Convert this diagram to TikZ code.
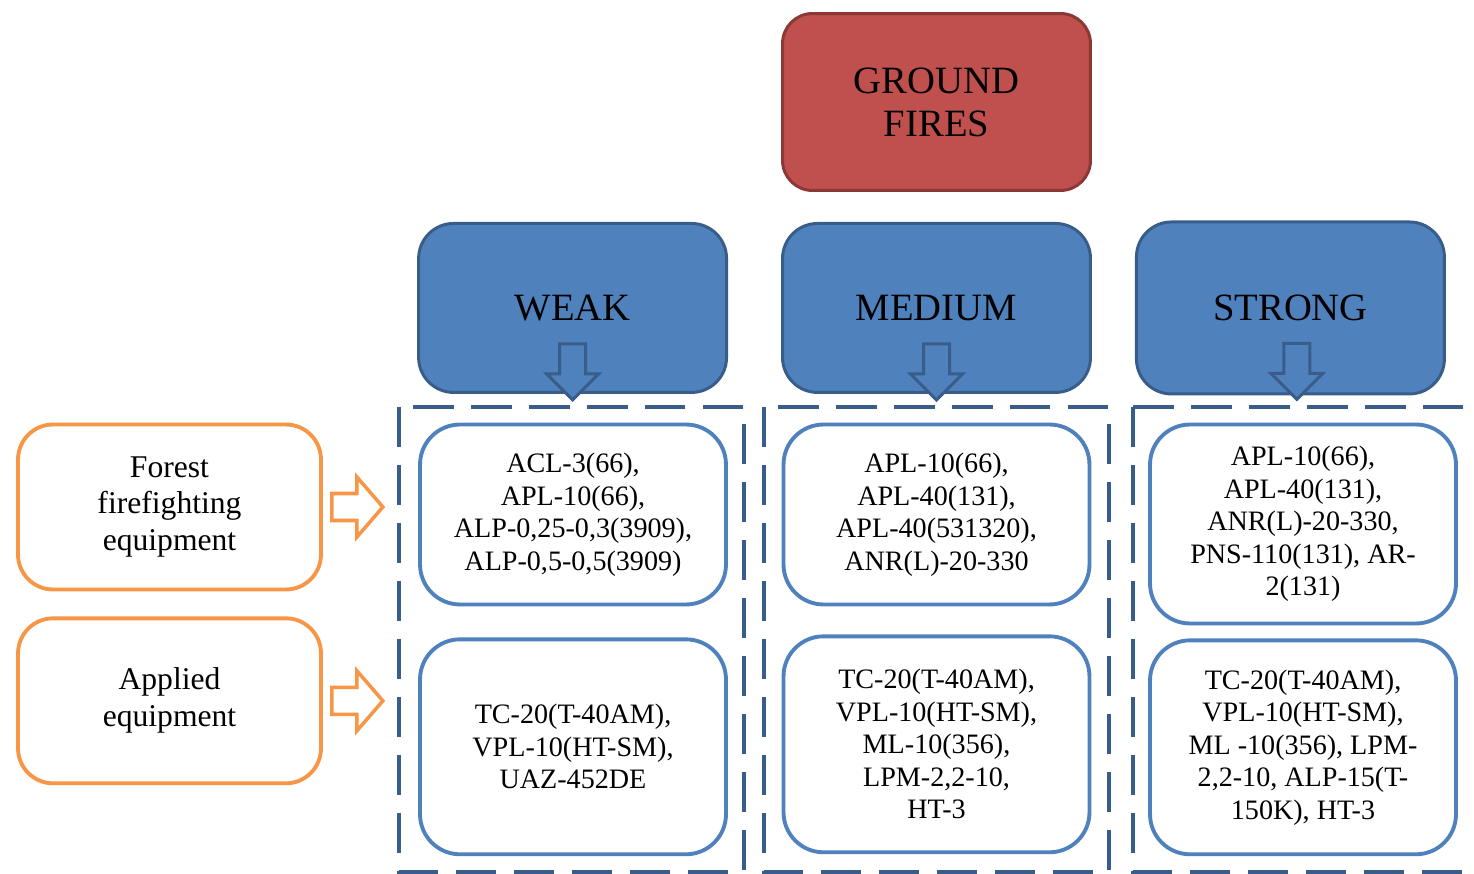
\documentclass[tikz,border=0pt]{standalone}
\usepackage{fontspec}
\setmainfont{Liberation Serif}
\usetikzlibrary{positioning}
\definecolor{firered}{HTML}{C0504D}
\definecolor{fireedge}{HTML}{8C3836}
\definecolor{levelblue}{HTML}{4F81BD}
\definecolor{leveledge}{HTML}{385D8A}
\definecolor{kitedge}{HTML}{4F81BD}
\definecolor{kindedge}{HTML}{F79646}
\definecolor{groupedge}{HTML}{385D8A}
\begin{document}
\begin{tikzpicture}[
  x=0.02cm, y=-0.02cm,
  every node/.style = {shape=rectangle, align=center, inner sep=0pt},
  fire/.style = {draw=fireedge, fill=firered, line width=1.7pt, rounded corners=0.6cm,
    minimum width=6.16cm, minimum height=3.54cm, font=\fontsize{22}{24.5}\selectfont},
  level/.style = {draw=leveledge, fill=levelblue, line width=1.7pt, rounded corners=0.7cm,
    minimum width=6.16cm, minimum height=3.38cm, font=\fontsize{22}{24.5}\selectfont},
  kit/.style = {draw=kitedge, fill=white, line width=2.2pt, rounded corners=0.8cm,
    minimum width=6.12cm, font=\fontsize{16}{18.5}\selectfont},
  kind/.style = {draw=kindedge, fill=white, line width=2.2pt, rounded corners=0.7cm,
    minimum width=6.06cm, minimum height=3.3cm, font=\fontsize{18}{21}\selectfont},
  group/.style = {draw=groupedge, line width=2.3pt, dash pattern=on 23pt off 10pt},
  dnarrow/.pic = {\draw[draw=leveledge, fill=levelblue, line width=1.7pt]
    (0,0) -- (-26,-26) -- (-13,-26) -- (-13,-56) -- (13,-56) -- (13,-26) -- (26,-26) -- cycle;},
  rtarrow/.pic = {\draw[draw=kindedge, fill=white, line width=2pt]
    (0,0) -- (-26,-30) -- (-26,-13.5) -- (-51,-13.5) -- (-51,13.5) -- (-26,13.5) -- (-26,30) -- cycle;}
  ]
  \useasboundingbox (0,0) rectangle (1474,874);
  \draw[group] (399,407) rectangle (744,872);
  \draw[group] (764,407) rectangle (1109,872);
  \draw[group] (1133,407) rectangle (1500,872);

  \node[fire] (ground) at (936.5,102) {GROUND\\FIRES};
  \node[level, below=0.6cm of ground] (medium) {MEDIUM};
  \node[level, left=1.06cm of medium] (weak) {WEAK};
  \node[level, right=0.86cm of medium, minimum height=3.44cm] (strong) {STRONG};

  \node[kit, minimum height=3.6cm] (weakkit) at (573,514.5)
    {ACL-3(66),\\APL-10(66),\\ALP-0,25-0,3(3909),\\ALP-0,5-0,5(3909)};
  \node[kit, minimum height=4.3cm, below=0.62cm of weakkit] (weakuse)
    {TC-20(T-40AM),\\VPL-10(HT-SM),\\UAZ-452DE};
  \node[kit, minimum height=3.6cm] (mediumkit) at (936.5,514.5)
    {APL-10(66),\\APL-40(131),\\APL-40(531320),\\ANR(L)-20-330};
  \node[kit, minimum height=4.32cm, below=0.56cm of mediumkit] (mediumuse)
    {TC-20(T-40AM),\\VPL-10(HT-SM),\\ML-10(356),\\LPM-2,2-10,\\HT-3};
  \node[kit, minimum height=3.98cm] (strongkit) at (1303,524)
    {APL-10(66),\\APL-40(131),\\ANR(L)-20-330,\\PNS-110(131), AR-\\2(131)};
  \node[kit, minimum height=4.28cm, below=0.26cm of strongkit] (stronguse)
    {TC-20(T-40AM),\\VPL-10(HT-SM),\\ML -10(356), LPM-\\2,2-10, ALP-15(T-\\150K), HT-3};

  \node[kind] (forest) at (169.5,507) {Forest\\firefighting\\equipment};
  \node[kind, below=0.5cm of forest] (applied) {Applied\\equipment};

  \pic at ([yshift=-0.12cm]weak.south) {dnarrow};
  \pic at ([yshift=-0.12cm]medium.south) {dnarrow};
  \pic at ([xshift=0.13cm,yshift=-0.08cm]strong.south) {dnarrow};
  \pic at ([xshift=1.2cm]forest.east) {rtarrow};
  \pic at ([xshift=1.2cm]applied.east) {rtarrow};
\end{tikzpicture}
\end{document}
